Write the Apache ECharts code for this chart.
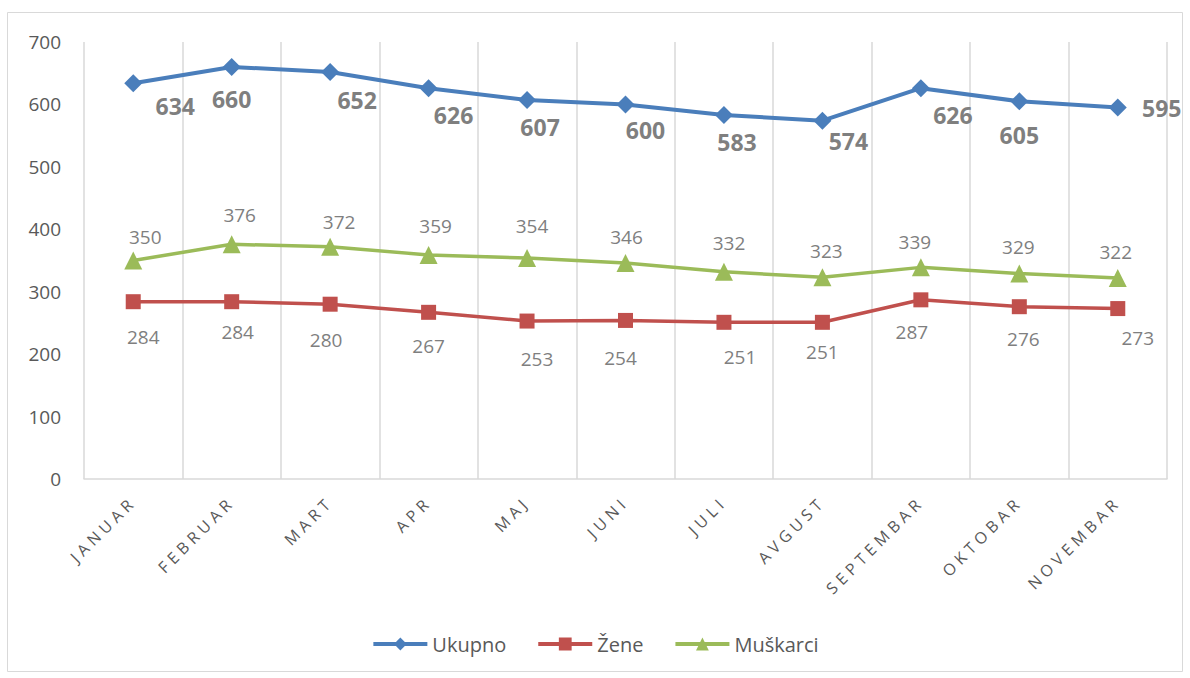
<!DOCTYPE html>
<html><head><meta charset="utf-8">
<script src="https://cdn.jsdelivr.net/npm/echarts@6/dist/echarts.min.js"></script>
<style>html,body{margin:0;padding:0;background:#fff}#c{width:1190px;height:678px}</style>
</head><body><div id="c"></div>
<script>
const categories = ['JANUAR','FEBRUAR','MART','APR','MAJ','JUNI','JULI','AVGUST','SEPTEMBAR','OKTOBAR','NOVEMBAR'];
const ukupno = [634,660,652,626,607,600,583,574,626,605,595];
const zene = [284,284,280,267,253,254,251,251,287,276,273];
const muskarci = [350,376,372,359,354,346,332,323,339,329,322];
const yTicks = [0,100,200,300,400,500,600,700];

// label displacement (px) per point, for reproducing label placement
const ukOff = [[42,23],[0,32],[27,28],[25,27],[13,27],[20,26],[13,27],[26,20],[32,27],[0,34],[44,0]];
const zeOff = [[10,35],[6,30],[-4,36],[0,34],[10,38],[-5,38],[16,35],[0,30],[-9,32],[4,32],[20,29]];
const muOff = [[12,-24],[8,-29],[9,-25],[7,-29],[5,-32],[1,-26],[5,-29],[4,-26],[-6,-25],[-1,-27],[-2,-26]];

const chart = echarts.init(document.getElementById('c'), null, {renderer:'svg'});
const font = '"Open Sans", "Liberation Sans", sans-serif';
function layoutFn(off){
  return function(p){ const o = off[p.dataIndex]; return {dx:o[0], dy:o[1]}; };
}
function spaceLabels(){
  document.querySelectorAll('#c svg text').forEach(t=>{
    if(categories.includes(t.textContent)) t.style.letterSpacing='4.5px';
  });
}
chart.on('finished', spaceLabels);
chart.setOption({
  animation:false,
  textStyle:{fontFamily:font},
  graphic:[{type:'rect',shape:{x:7.5,y:12.5,width:1175,height:659},style:{fill:'none',stroke:'#d9d9d9',lineWidth:1},silent:true}],
  grid:{left:84,right:23,top:42,bottom:199},
  legend:{bottom:19,left:'center',itemWidth:54,itemHeight:16,itemGap:30,
    lineStyle:{width:4},
    textStyle:{fontSize:20,color:'#595959',fontFamily:font},
    data:['Ukupno','Žene','Muškarci']},
  xAxis:{type:'category',data:categories,boundaryGap:true,
    axisLine:{lineStyle:{color:'#d9d9d9',width:1.5}},
    axisTick:{show:false},
    splitLine:{show:true,lineStyle:{color:'#d9d9d9',width:1.5}},
    axisLabel:{rotate:45,margin:20,fontSize:16,color:'#595959',fontFamily:font,interval:0}},
  yAxis:{type:'value',min:0,max:700,interval:100,
    axisLine:{show:false},axisTick:{show:false},splitLine:{show:false},
    axisLabel:{fontSize:19,color:'#595959',margin:23,fontFamily:font,
      formatter:v=>yTicks.includes(v)?String(v):''}},
  series:[
    {name:'Ukupno',type:'line',data:ukupno,symbol:'diamond',symbolSize:18,
      itemStyle:{color:'#4a7ebb'},lineStyle:{width:4,color:'#4a7ebb'},
      label:{show:true,position:'inside',fontSize:23,fontWeight:'bold',color:'#7f7f7f',fontFamily:font},
      labelLayout:layoutFn(ukOff)},
    {name:'Žene',type:'line',data:zene,symbol:'rect',symbolSize:15,
      itemStyle:{color:'#c0504d'},lineStyle:{width:3.5,color:'#c0504d'},
      label:{show:true,position:'inside',fontSize:19,color:'#7f7f7f',fontFamily:font},
      labelLayout:layoutFn(zeOff)},
    {name:'Muškarci',type:'line',data:muskarci,symbol:'triangle',symbolSize:18,
      itemStyle:{color:'#9bbb59'},lineStyle:{width:3.5,color:'#9bbb59'},
      label:{show:true,position:'inside',fontSize:19,color:'#7f7f7f',fontFamily:font},
      labelLayout:layoutFn(muOff)}
  ]
});
spaceLabels();
</script></body></html>
